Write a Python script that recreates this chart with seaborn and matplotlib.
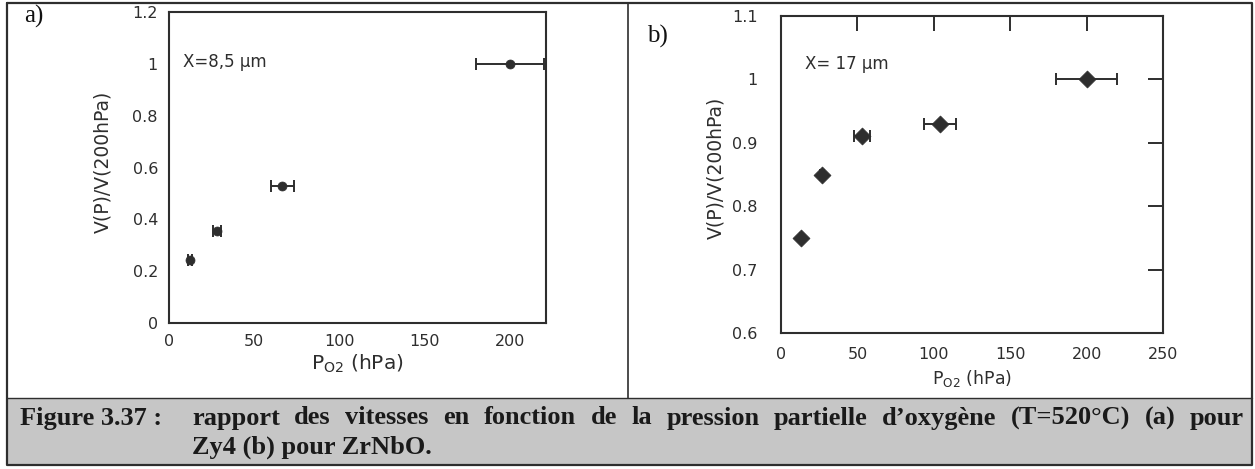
import numpy as np
import pandas as pd
import matplotlib
matplotlib.use("Agg")
import matplotlib.pyplot as plt
import seaborn as sns
from matplotlib.ticker import FuncFormatter, FixedLocator

# ---------------- data ----------------
p_a = [12.5, 28, 66.5, 200]          # P_O2 (hPa), panel a (Zy4)
v_a = [0.245, 0.355, 0.53, 1.0]       # V(P)/V(200hPa)
xerr_a = [1.2, 2.5, 6.5, 20]

p_b = [13, 27, 53, 104, 200]          # panel b (ZrNbO)
v_b = [0.75, 0.85, 0.91, 0.93, 1.0]
xerr_b = [0.8, 1.2, 5.5, 10.5, 20]

xticks_a = [0, 50, 100, 150, 200]
yticks_a = [0, 0.2, 0.4, 0.6, 0.8, 1.0, 1.2]
xticks_b = [0, 50, 100, 150, 200, 250]
yticks_b = [0.6, 0.7, 0.8, 0.9, 1.0, 1.1]

label_a = "X=8,5 µm"
label_b = "X= 17 µm"
ylabel = "V(P)/V(200hPa)"
xlabel = r"P$_{\mathrm{O2}}$ (hPa)"
caption_head = "Figure 3.37 :"
caption_line1 = "rapport des vitesses en fonction de la pression partielle d’oxygène (T=520°C) (a) pour"
caption_line2 = "Zy4 (b) pour ZrNbO."

df_a = pd.DataFrame({"P": p_a, "V": v_a})
df_b = pd.DataFrame({"P": p_b, "V": v_b})

# ---------------- style ----------------
sns.set_style("white")
plt.rcParams["font.family"] = ["DejaVu Sans"]
plt.rcParams["mathtext.fontset"] = "dejavusans"
INK = "#2e2e2e"

W, H = 1255, 469
fig = plt.figure(figsize=(W / 100, H / 100), dpi=100)
fig.patch.set_facecolor("white")


def px_axes(x0, y0, x1, y1):
    return fig.add_axes([x0 / W, 1 - y1 / H, (x1 - x0) / W, (y1 - y0) / H])


def fmt(v, pos):
    return "%g" % v


# ---------------- panel a ----------------
ax_a = px_axes(169, 12, 546, 323)
ax_a.errorbar(p_a, v_a, xerr=xerr_a, fmt="none", ecolor=INK, elinewidth=1.4,
              capsize=4, capthick=1.4, zorder=2)
sns.scatterplot(data=df_a, x="P", y="V", ax=ax_a, marker="o", s=42,
                color=INK, edgecolor=INK, linewidth=0.5, zorder=3, legend=False)
ax_a.set_xlim(0, 221)
ax_a.set_ylim(0, 1.2)
ax_a.xaxis.set_major_locator(FixedLocator(xticks_a))
ax_a.yaxis.set_major_locator(FixedLocator(yticks_a))
ax_a.xaxis.set_major_formatter(FuncFormatter(fmt))
ax_a.yaxis.set_major_formatter(FuncFormatter(fmt))
ax_a.tick_params(direction="in", length=12, width=1.4, colors=INK,
                 labelsize=11.5, labelcolor=INK, top=False, right=False)
ax_a.tick_params(axis="y", pad=8)
ax_a.tick_params(axis="x", pad=8)
ax_a.set_xlabel(xlabel, fontsize=14.5, color=INK)
ax_a.xaxis.set_label_coords(0.5, -0.095)
ax_a.set_ylabel(ylabel, fontsize=13.5, color=INK)
ax_a.yaxis.set_label_coords(-0.15, 0.518)
for s in ax_a.spines.values():
    s.set_color(INK)
    s.set_linewidth(1.5)
ax_a.text(0.037, 0.84, label_a, transform=ax_a.transAxes, fontsize=12,
          color=INK, va="center", ha="left")

# ---------------- panel b ----------------
ax_b = px_axes(781, 16, 1163, 333)
ax_b.errorbar(p_b, v_b, xerr=xerr_b, fmt="none", ecolor=INK, elinewidth=1.4,
              capsize=4, capthick=1.4, zorder=2)
sns.scatterplot(data=df_b, x="P", y="V", ax=ax_b, marker="D", s=75,
                color=INK, edgecolor=INK, linewidth=0.5, zorder=3, legend=False)
ax_b.set_xlim(0, 250)
ax_b.set_ylim(0.6, 1.1)
ax_b.xaxis.set_major_locator(FixedLocator(xticks_b))
ax_b.yaxis.set_major_locator(FixedLocator(yticks_b))
ax_b.xaxis.set_major_formatter(FuncFormatter(fmt))
ax_b.yaxis.set_major_formatter(FuncFormatter(fmt))
ax_b.tick_params(direction="in", length=11, width=1.4, colors=INK,
                 labelsize=11.5, labelcolor=INK, top=True, right=True)
ax_b.tick_params(axis="y", pad=17)
ax_b.tick_params(axis="x", pad=10)
ax_b.set_xlabel(xlabel, fontsize=12.5, color=INK)
ax_b.xaxis.set_label_coords(0.5, -0.11)
ax_b.set_ylabel(ylabel, fontsize=13.5, color=INK)
ax_b.yaxis.set_label_coords(-0.145, 0.52)
for s in ax_b.spines.values():
    s.set_color(INK)
    s.set_linewidth(1.5)
ax_b.text(0.063, 0.85, label_b, transform=ax_b.transAxes, fontsize=12,
          color=INK, va="center", ha="left")

# ---------------- frame, panel letters and caption ----------------
frame = fig.add_axes([0, 0, 1, 1], zorder=-1)
frame.set_xlim(0, W)
frame.set_ylim(H, 0)
frame.axis("off")
frame.add_patch(plt.Rectangle((7, 398), 1245, 67, facecolor="#c6c6c6",
                              edgecolor="none"))
frame.plot([7, 1252, 1252, 7, 7], [3, 3, 465, 465, 3], color=INK, lw=1.6)
frame.plot([7, 1252], [398, 398], color=INK, lw=1.0)
frame.plot([628, 628], [3, 398], color=INK, lw=1.2)

serif = ["Liberation Serif", "DejaVu Serif"]
frame.text(24, 16, "a)", fontsize=18, family=serif, color="#111111",
           va="center", ha="left")
frame.text(647, 36, "b)", fontsize=18, family=serif, color="#111111",
           va="center", ha="left")

cap_kw = dict(fontsize=19, family=serif, weight="bold", color="#1a1a1a",
              va="center", ha="left")
frame.text(20, 418, caption_head, **cap_kw)

# justified first line
renderer = fig.canvas.get_renderer()
words = caption_line1.split(" ")
arts = [frame.text(0, 418, w, **cap_kw) for w in words]
widths = [a.get_window_extent(renderer).width for a in arts]
x_start, x_end = 192, 1244
gap = (x_end - x_start - sum(widths)) / (len(words) - 1)
x = x_start
for a, w in zip(arts, widths):
    a.set_x(x)
    x += w + gap
frame.text(x_start, 447, caption_line2, **cap_kw)

fig.savefig("out.png", dpi=100, facecolor="white")
